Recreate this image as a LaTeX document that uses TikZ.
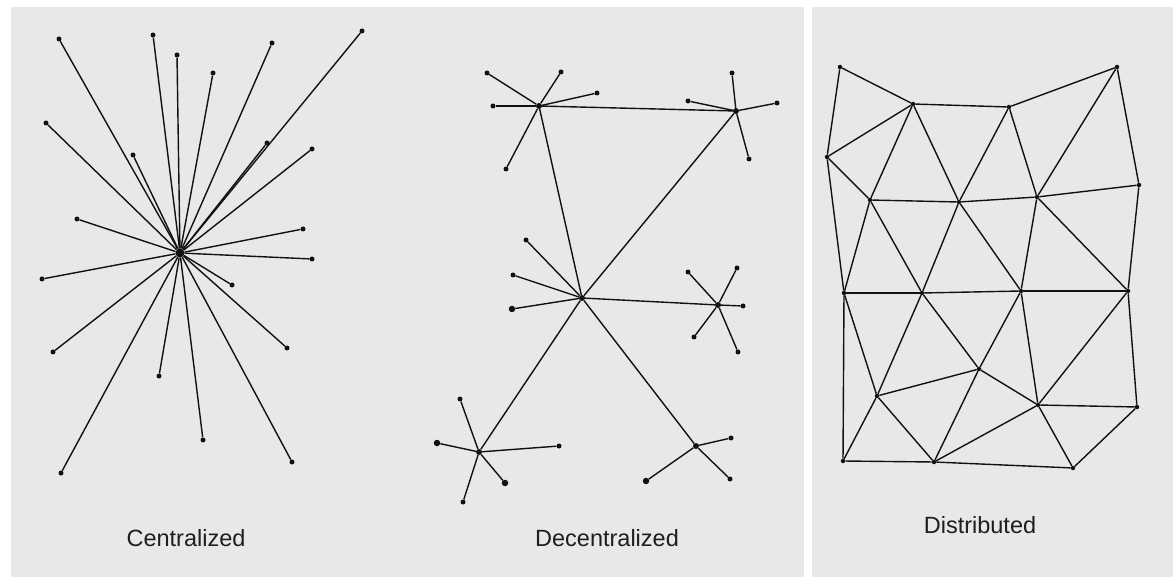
\documentclass[tikz,border=0pt]{standalone}
\usepackage{fontspec}
\setmainfont{Liberation Sans}
\definecolor{panel}{HTML}{E8E8E8}
\definecolor{ink}{HTML}{111111}
\definecolor{labelink}{HTML}{1E1E1E}
\begin{document}
\begin{tikzpicture}[x=1pt,y=-1pt,
  dot/.style={circle,fill=ink,inner sep=0pt,minimum size=5pt},
  bigdot/.style={circle,fill=ink,inner sep=0pt,minimum size=6.5pt},
  hub/.style={circle,fill=ink,inner sep=0pt,minimum size=6pt},
  chub/.style={circle,fill=ink,inner sep=0pt,minimum size=9pt},
  link/.style={draw=ink,line width=1.4pt},
  caption/.style={font=\fontsize{23.5}{26}\selectfont,text=labelink,anchor=base,inner sep=0pt}]
\useasboundingbox (0,0) rectangle (1173,577);
\fill[white] (0,0) rectangle (1173,577);
\fill[panel] (11,7) rectangle (804,577);
\fill[panel] (812,7) rectangle (1173,577);

% ---------- Centralized ----------
\node[chub] (c0) at (180,253) {};
\foreach \i/\x/\y in {1/59/39,2/153/35,3/177/55,4/213/73,5/272/43,6/362/31,7/46/123,8/133/155,9/267/143,10/312/149,11/77/219,12/303/229,13/312/259,14/42/279,15/232/285,16/53/352,17/61/473,18/159/376,19/203/440,20/292/462,21/287/348}{
  \node[dot] (c\i) at (\x,\y) {};
  \draw[link] (c0) -- (c\i);
}
\node[caption] (lc) at (186,546) {Centralized};

% ---------- Decentralized ----------
\node[hub] (hA) at (539,106) {};
\node[hub] (hB) at (736,111) {};
\node[hub] (hC) at (582,298) {};
\node[hub] (hD) at (718,305) {};
\node[hub] (hE) at (479,452) {};
\node[hub] (hF) at (696,446) {};
\draw[link] (hA) -- (hB);
\draw[link] (hA) -- (hC);
\draw[link] (hB) -- (hC);
\draw[link] (hC) -- (hD);
\draw[link] (hC) -- (hE);
\draw[link] (hC) -- (hF);
\foreach \h/\i/\x/\y/\s in {A/1/487/73/dot,A/2/561/72/dot,A/3/597/93/dot,A/4/493/106/dot,A/5/506/169/dot,
  B/1/732/73/dot,B/2/777/103/dot,B/3/688/101/dot,B/4/749/159/dot,
  C/1/526/240/dot,C/2/513/275/dot,C/3/512/309/bigdot,
  D/1/688/272/dot,D/2/737/268/dot,D/3/743/306/dot,D/4/694/337/dot,D/5/738/352/dot,
  E/1/460/399/dot,E/2/437/443/bigdot,E/3/559/446/dot,E/4/505/483/bigdot,E/5/463/502/dot,
  F/1/731/438/dot,F/2/646/481/bigdot,F/3/730/479/dot}{
  \node[\s] (l\h\i) at (\x,\y) {};
  \draw[link] (h\h) -- (l\h\i);
}
\node[caption] (ld) at (607,546) {Decentralized};

% ---------- Distributed ----------
\foreach \i/\x/\y in {1/840/67,2/913/104,3/1009/107,4/1117/67,5/827/157,6/870/200,7/959/202,8/1037/197,9/1139/185,
  10/844/293,11/922/293,12/1021/291,13/1128/291,14/877/396,15/979/369,16/1038/405,17/1137/407,18/843/461,19/934/462,20/1073/468}{
  \node[dot,minimum size=4.5pt] (n\i) at (\x,\y) {};
}
\foreach \a/\b in {1/2,1/5,2/5,2/3,3/4,4/8,4/9,2/6,2/7,3/7,3/8,5/6,5/10,6/7,7/8,8/9,6/10,6/11,7/11,7/12,8/12,8/13,9/13,
  10/11,11/12,12/13,10/14,10/18,11/14,11/15,12/15,12/16,13/16,13/17,14/15,14/18,14/19,15/19,15/16,16/19,16/17,16/20,17/20,18/19,19/20}{
  \draw[link] (n\a) -- (n\b);
}
\node[caption] (lt) at (980,533) {Distributed};
\end{tikzpicture}
\end{document}
